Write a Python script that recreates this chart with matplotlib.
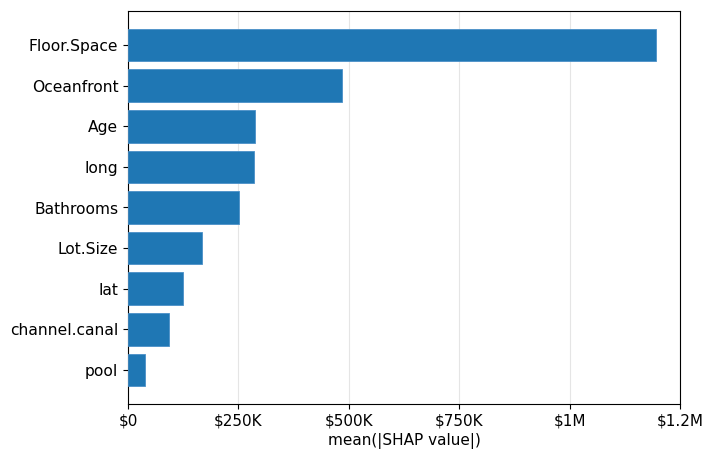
import matplotlib
matplotlib.use("Agg")
import matplotlib.pyplot as plt

features = ["Floor.Space", "Oceanfront", "Age", "long", "Bathrooms",
            "Lot.Size", "lat", "channel.canal", "pool"]
values = [1196000, 485000, 288000, 285000, 251000, 168000, 125000, 93000, 39000]
xticks = [0, 250000, 500000, 750000, 1000000, 1250000]
xticklabels = ["$0", "$250K", "$500K", "$750K", "$1M", "$1.2M"]

fig = plt.figure(figsize=(7.14, 4.61), dpi=100)
ax = fig.add_axes([128/714, 1 - 404/461, (680-128)/714, (404-11)/461])
ypos = list(range(len(features)))[::-1]
ax.barh(ypos, values, height=0.8, color="#1f77b4", edgecolor="#4a90c8", linewidth=0.6, zorder=3)
ax.set_yticks(ypos)
ax.set_yticklabels(features, fontsize=11.2)
ax.set_xlim(0, 1250000)
ax.set_xticks(xticks)
ax.set_xticklabels(xticklabels, fontsize=11)
ax.grid(axis="x", color="#e5e5e5", linewidth=0.8, zorder=0)
ax.set_xlabel("mean(|SHAP value|)", fontsize=11, labelpad=3)
fig.savefig("out.png", dpi=100)
